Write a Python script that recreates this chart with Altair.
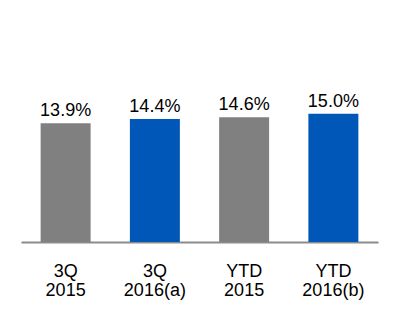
import altair as alt
import pandas as pd

categories = ["3Q|2015", "3Q|2016(a)", "YTD|2015", "YTD|2016(b)"]
values = [13.9, 14.4, 14.6, 15.0]
labels = ["13.9%", "14.4%", "14.6%", "15.0%"]
colors = ["#808080", "#0057B7", "#808080", "#0057B7"]

df = pd.DataFrame({"cat": categories, "val": values, "label": labels, "color": colors})

FONT = "Liberation Sans"

x = alt.X(
    "cat:N",
    sort=categories,
    title=None,
    scale=alt.Scale(paddingInner=0.44, paddingOuter=0.22),
    axis=alt.Axis(
        labelExpr="split(datum.label, '|')",
        labelAngle=0,
        labelFont=FONT,
        labelFontSize=18,
        labelColor="#000000",
        labelLineHeight=19,
        labelPadding=20,
        ticks=False,
        tickSize=0,
        domainColor="#8C8C8C",
        domainWidth=2,
        grid=False,
    ),
)
y = alt.Y("val:Q", scale=alt.Scale(domain=[0, 20], nice=False), axis=None)

bars = alt.Chart(df).mark_bar().encode(
    x=x, y=y, color=alt.Color("color:N", scale=None)
)
text = alt.Chart(df).mark_text(
    font=FONT, fontSize=18, baseline="alphabetic", dy=-7, color="#000000"
).encode(x=x, y=y, text="label:N")

chart = (
    alt.layer(bars, text)
    .properties(
        width=357,
        height=171,
        autosize=alt.AutoSizeParams(type="none"),
        padding={"left": 21, "top": 71, "right": 22, "bottom": 81},
        background="white",
    )
    .configure_view(stroke=None)
)

chart.save("out.html", embed_options={"renderer": "svg", "actions": False})
